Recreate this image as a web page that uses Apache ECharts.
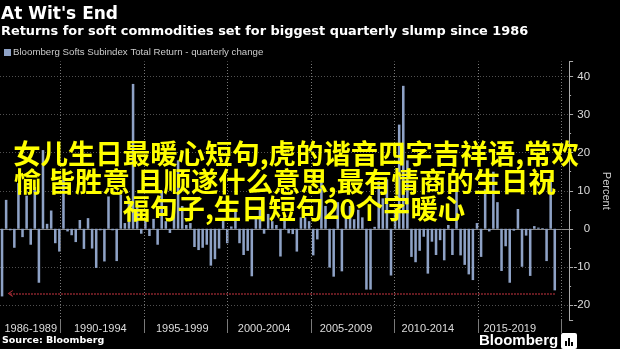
<!DOCTYPE html>
<html><head><meta charset="utf-8">
<script src="https://cdn.jsdelivr.net/npm/echarts@6/dist/echarts.min.js"></script>
<style>html,body{margin:0;padding:0;background:#000;}#c{width:620px;height:349px;}</style>
</head><body><div id="c"></div>
<script>
const quarters = [
'1986Q2','1986Q3','1986Q4',
'1987Q1','1987Q2','1987Q3','1987Q4','1988Q1','1988Q2','1988Q3','1988Q4','1989Q1','1989Q2','1989Q3','1989Q4',
'1990Q1','1990Q2','1990Q3','1990Q4','1991Q1','1991Q2','1991Q3','1991Q4','1992Q1','1992Q2','1992Q3','1992Q4',
'1993Q1','1993Q2','1993Q3','1993Q4','1994Q1','1994Q2','1994Q3','1994Q4','1995Q1','1995Q2','1995Q3','1995Q4',
'1996Q1','1996Q2','1996Q3','1996Q4','1997Q1','1997Q2','1997Q3','1997Q4','1998Q1','1998Q2','1998Q3','1998Q4',
'1999Q1','1999Q2','1999Q3','1999Q4','2000Q1','2000Q2','2000Q3','2000Q4','2001Q1','2001Q2','2001Q3','2001Q4',
'2002Q1','2002Q2','2002Q3','2002Q4','2003Q1','2003Q2','2003Q3','2003Q4','2004Q1','2004Q2','2004Q3','2004Q4',
'2005Q1','2005Q2','2005Q3','2005Q4','2006Q1','2006Q2','2006Q3','2006Q4','2007Q1','2007Q2','2007Q3','2007Q4',
'2008Q1','2008Q2','2008Q3','2008Q4','2009Q1','2009Q2','2009Q3','2009Q4','2010Q1','2010Q2','2010Q3','2010Q4',
'2011Q1','2011Q2','2011Q3','2011Q4','2012Q1','2012Q2','2012Q3','2012Q4','2013Q1','2013Q2','2013Q3','2013Q4',
'2014Q1','2014Q2','2014Q3','2014Q4','2015Q1','2015Q2','2015Q3','2015Q4','2016Q1','2016Q2','2016Q3','2016Q4',
'2017Q1','2017Q2','2017Q3','2017Q4','2018Q1','2018Q2','2018Q3','2018Q4','2019Q1','2019Q2','2019Q3','2019Q4',
'2020Q1','2020Q2','2020Q3','2020Q4'];

const quarterlyChange = [
-17.8, 7.6, -0.4, -5.0, 12, -2.2, 8.7, -4.2, 11, -14.2,
20.7, 1.3, 4.8, -3.8, -6.0, 13, -0.7, -1.7, -3.5, 2.3,
-5.3, 2.8, -5.2, -10.3, -0.4, -8.6, 8.5, -0.4, -8.5, 9,
1.5, 8, 38.1, 6, -1.3, 2.2, -1.9, 2.6, -4.2, 10,
2, -1.1, 7, 18, 6, 1, 1.5, -4.8, -5.6, -5.0,
-4.2, -9.7, -8.0, -5.2, 2.4, -3.8, 0.6, 4.8, -3.8, -6.9,
-5.8, -12.5, 3, 5.2, -1.3, 3.9, 2, 1, -7.3, 3.5,
-1.2, -1.4, -6.0, 3, 3, 2, -7.0, -2.8, 13, 6,
-10.2, -12.6, 7, -11.2, 3, 6, 2.5, 5, 3, -16,
-16, 0.5, 12.5, 8, 13, -12.3, 5, 27.4, 37.6, 18,
-7.4, -8.8, -5.8, -2.1, -11.8, -3.4, -6.9, -3.0, -8.3, 1,
-6.9, 12, -7, -9.5, -12, -13.5, 1.5, -7.4, 10.4, -0.7,
15, 7, -11.1, -4.6, -14.2, -0.5, 5.2, -10, -1.8, -12.4,
0.7, 0.3, 0.2, -8.5, 13.9, -16.2];

const groupLabels = ['1986-1989','1990-1994','1995-1999','2000-2004','2005-2009','2010-2014','2015-2019'];
const groupLabelQuarters = ['1988Q1','1992Q2','1997Q2','2002Q2','2007Q2','2012Q2','2017Q2'];
const separatorQuarters = ['1989Q4','1994Q4','1999Q4','2004Q4','2009Q4','2014Q4','2019Q4'];
const yMin = -24, yMax = 44;
const slumpLevel = -17, slumpFrom = '1986Q4', slumpTo = '2020Q1';

const seriesName = 'Bloomberg Softs Subindex Total Return - quarterly change';
const titleText = "At Wit's End";
const subtitleText = 'Returns for soft commodities set for biggest quarterly slump since 1986';
const sourceText = 'Source: Bloomberg';
const overlayLines = ['女儿生日最暖心短句,虎的谐音四字吉祥语,常欢', '愉 皆胜意 且顺遂什么意思,最有情商的生日祝', '福句子,生日短句20个字暖心'];

const chart = echarts.init(document.getElementById('c'), null, {renderer: 'canvas'});
const FONT = '"Liberation Sans", Arial, sans-serif';
const BFONT = '"DejaVu Sans", sans-serif';
const labelIdx = new Set(groupLabelQuarters.map(q => quarters.indexOf(q)));
const sepIndex = separatorQuarters.map(q => quarters.indexOf(q));
const chevron = 'path://M0,10 L5,0 L10,10 L8.4,10 L5,3.2 L1.6,10 Z';
const GRID_L = -0.6, GRID_R = 39.5;
const hiddenCat = (g) => ({type: 'category', data: quarters, gridIndex: g, boundaryGap: true,
  axisLine: {show: false}, axisTick: {show: false}, axisLabel: {show: false}, splitLine: {show: false}});

chart.setOption({
  backgroundColor: '#000',
  animation: false,
  title: [
    {text: titleText, left: 1, top: 6, padding: 0, textStyle: {color: '#fff', fontSize: 17, fontWeight: 'bold', fontFamily: BFONT}},
    {text: subtitleText, left: 1, top: 25, padding: 0, textStyle: {color: '#fff', fontSize: 12.9, fontWeight: 'bold', fontFamily: BFONT}},
    {text: sourceText, left: 2, top: 336, padding: 0, textStyle: {color: '#fff', fontSize: 9.5, fontWeight: 'bold', fontFamily: BFONT}}
  ],
  legend: {
    left: 4, top: 47.5, padding: 0, icon: 'rect', itemWidth: 7, itemHeight: 7,
    textStyle: {color: '#ccc', fontSize: 9.7, fontFamily: FONT, padding: [0,0,0,-3]},
    data: [seriesName]
  },
  grid: [
    {left: GRID_L, right: GRID_R, top: 61.5, bottom: 29},
    {left: GRID_L, right: GRID_R, top: 320, bottom: 16},
    {left: GRID_L, right: GRID_R, top: 61.5, bottom: 29}
  ],
  xAxis: [{
    type: 'category', data: quarters, boundaryGap: true,
    axisLine: {lineStyle: {color: '#8a8a8a', width: 1}},
    axisTick: {show: false},
    axisLabel: {show: true, interval: (i) => labelIdx.has(i), color: '#ddd', fontSize: 11, fontFamily: FONT, margin: 3,
      formatter: (v) => groupLabels[groupLabelQuarters.indexOf(v)] || ''},
    splitLine: {show: false}
  }, hiddenCat(1), hiddenCat(2)],
  yAxis: [{
    type: 'value', position: 'right', min: yMin, max: yMax, splitNumber: 7,
    name: 'Percent', nameLocation: 'middle', nameRotate: -90, nameGap: 30,
    nameTextStyle: {color: '#ccc', fontSize: 11, fontFamily: FONT},
    axisLine: {show: true, lineStyle: {color: '#aaa'}},
    axisTick: {show: true, length: 4, lineStyle: {color: '#aaa'}},
    minorTick: {show: true, splitNumber: 2, length: 2, lineStyle: {color: '#aaa'}},
    axisLabel: {color: '#ddd', fontSize: 11.5, fontFamily: FONT, align: 'right', margin: 21, showMinLabel: false, showMaxLabel: false},
    splitLine: {show: true, showMinLine: false, showMaxLine: false, lineStyle: {color: '#505050', type: [1, 2], width: 1}}
  }, {
    type: 'value', gridIndex: 1, min: 0, max: 1, show: false
  }, {
    type: 'value', gridIndex: 2, min: 0, max: 1, show: false
  }],
  series: [{
    name: 'gridlines', type: 'line', xAxisIndex: 2, yAxisIndex: 2, data: [], z: 1,
    markLine: {
      silent: true, animation: false, symbol: 'none', label: {show: false},
      lineStyle: {color: '#7a7a7a', type: [1, 2], width: 1},
      data: sepIndex.map(i => ({xAxis: i}))
    }
  }, {
    name: seriesName, type: 'bar', data: quarterlyChange, barWidth: '62%', z: 2,
    itemStyle: {color: '#8ea2c6'},
    markLine: {
      silent: true, animation: false, symbol: 'none', label: {show: false},
      data: [[
        {coord: [slumpFrom, slumpLevel], symbol: chevron, symbolSize: [7, 5], lineStyle: {color: '#b1303a', type: [1.5, 1.5], width: 1.5}},
        {coord: [slumpTo, slumpLevel], symbol: 'none'}
      ]]
    }
  }, {
    name: 'separators', type: 'line', xAxisIndex: 1, yAxisIndex: 1, data: [],
    markLine: {
      silent: true, animation: false, symbol: 'none', label: {show: false},
      lineStyle: {color: '#7a7a7a', type: 'solid', width: 1},
      data: sepIndex.map(i => ({xAxis: i}))
    }
  }],
  graphic: [
    {type: 'text', left: 479, top: 333, style: {text: 'Bloomberg', fill: '#fff', font: 'bold 15px ' + FONT}},
    {type: 'group', left: 561, top: 333, children: [
      {type: 'rect', shape: {x: 0, y: 0, width: 16, height: 16, r: 2}, style: {fill: '#fff'}},
      {type: 'rect', shape: {x: 4, y: 8, width: 2, height: 5}, style: {fill: '#000'}},
      {type: 'rect', shape: {x: 7, y: 5, width: 2, height: 8}, style: {fill: '#000'}},
      {type: 'rect', shape: {x: 10, y: 9, width: 2, height: 4}, style: {fill: '#000'}}
    ]},
    {type: 'text', z: 100, style: {text: overlayLines[0], x: 296, y: 154, align: 'center', verticalAlign: 'middle', fill: '#ffff00', font: 'bold 27.4px "Noto Sans CJK SC"'}},
    {type: 'text', z: 100, style: {text: overlayLines[1], x: 285, y: 181.5, align: 'center', verticalAlign: 'middle', fill: '#ffff00', font: 'bold 27.4px "Noto Sans CJK SC"'}},
    {type: 'text', z: 100, style: {text: overlayLines[2], x: 294, y: 209, align: 'center', verticalAlign: 'middle', fill: '#ffff00', font: 'bold 27.4px "Noto Sans CJK SC"'}}
  ]
});
</script></body></html>
